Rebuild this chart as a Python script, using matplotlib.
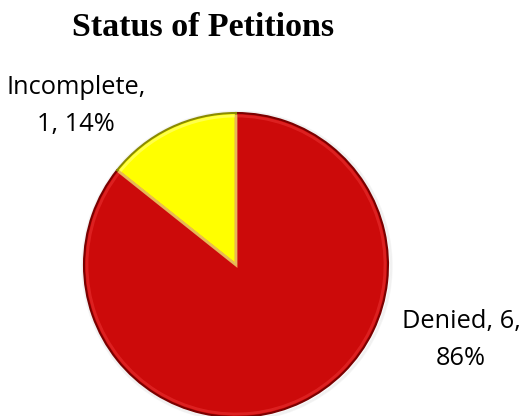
import matplotlib.pyplot as plt
from matplotlib.patches import Wedge, Circle

# Petition outcomes
categories = ['Denied', 'Incomplete']
counts = [6, 1]
colors = ['#CC0A0A', '#FFFF00']
edge_colors = ['#7A0000', '#8A8A00']
light_colors = ['#E83030', '#FFFF80']

W, H = 524, 416
fig = plt.figure(figsize=(W / 100, H / 100), dpi=100)
ax = fig.add_axes([0, 0, 1, 1])

cx, cy, r = 236, H - 265, 152

# faint shadow around the disc
for i in range(3):
    ax.add_patch(Circle((cx + 1, cy - 1), r + 1 + i, facecolor='none',
                        edgecolor='black', linewidth=1, alpha=0.04, zorder=0))

wedges, _ = ax.pie(counts, colors=colors, startangle=90, counterclock=False,
                   center=(cx, cy), radius=r, frame=True,
                   wedgeprops=dict(linewidth=1.5))
for w, ec in zip(wedges, edge_colors):
    w.set_edgecolor(ec)

# bevel highlight just inside each slice
for w, lc in zip(wedges, light_colors):
    ax.add_patch(Wedge((cx, cy), r - 3, w.theta1, w.theta2, facecolor='none',
                       edgecolor=lc, linewidth=2, alpha=0.6, zorder=w.get_zorder() + 0.1))

# pie() rescales the axes, so fix pixel-sized limits afterwards
ax.set_xlim(0, W)
ax.set_ylim(0, H)
ax.set_aspect('equal')
ax.axis('off')

total = sum(counts)
pct = [round(100 * c / total) for c in counts]

ax.text(203, H - 28, 'Status of Petitions', ha='center', va='center',
        fontsize=24.5, fontweight='bold', family='Liberation Serif')

label_font = dict(fontsize=18.3, family='Open Sans', ha='center', va='center')
ax.text(76, H - 106, f'{categories[1]},\n{counts[1]}, {pct[1]}%', linespacing=1.6, **label_font)
ax.text(461, H - 340, f'{categories[0]}, {counts[0]},\n{pct[0]}%', linespacing=1.6, **label_font)

fig.savefig('out.png', dpi=100)
